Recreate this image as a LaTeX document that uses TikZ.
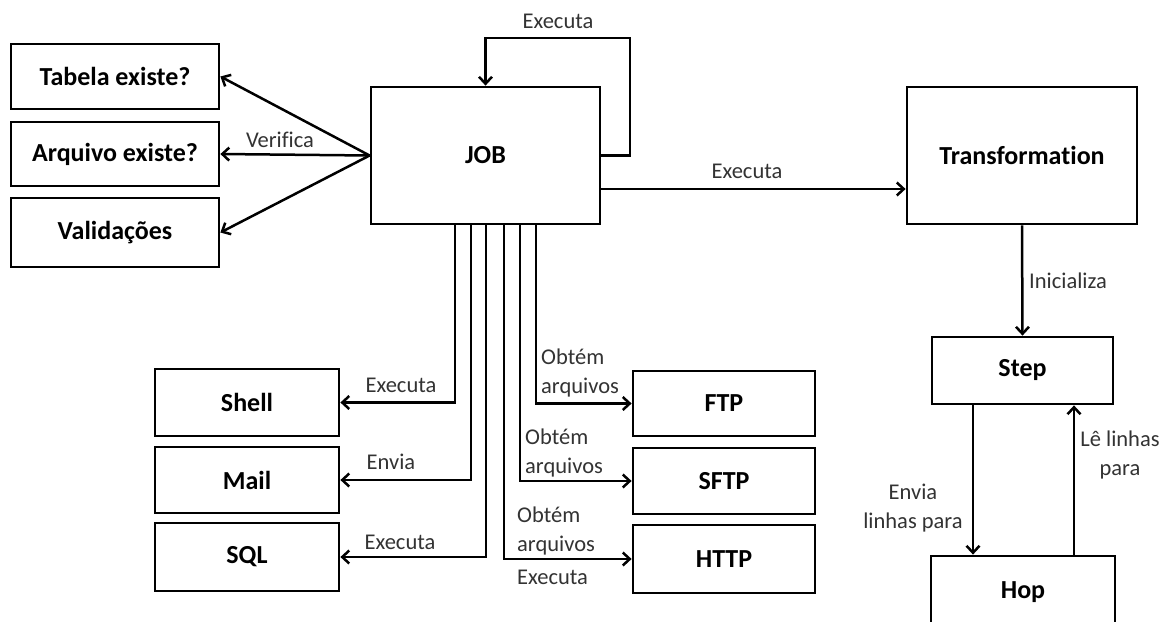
\documentclass[tikz,border=0pt]{standalone}
\usepackage{fontspec}
\setmainfont{Carlito}[Ligatures=NoCommon]
\usetikzlibrary{arrows.meta}

\tikzset{
  box/.style={draw, line width=2.8pt, fill=white, inner sep=0pt,
    font=\fontsize{26}{30}\selectfont\bfseries},
  arr/.style={line width=2.5pt, -{Straight Barb[length=7pt,width=13pt,line width=2.5pt]}},
  lbl/.style={text=black!80, inner sep=0pt,
    font=\fontsize{22.5}{29}\selectfont},
}

\begin{document}
\begin{tikzpicture}[x=1pt, y=-1pt]
\useasboundingbox (0,0) rectangle (1167,621);
\fill[white] (0,0) rectangle (1167,621);
\clip (0,0) rectangle (1167,621);

% checks on the left
\node[box, minimum width=208pt, minimum height=65pt] (tab) at (115,76.5) {Tabela existe?};
\node[box, minimum width=208pt, minimum height=64pt] (arq) at (115,154) {Arquivo existe?};
\node[box, minimum width=208pt, minimum height=69pt] (val) at (115,232.5) {Validações};

% main job and transformation
\node[box, minimum width=229pt, minimum height=137pt] (job) at (485.5,155.5) {JOB};
\node[box, minimum width=230pt, minimum height=137pt] (trans) at (1022,155.5) {Transformation};
\node[box, minimum width=181pt, minimum height=67pt] (step) at (1022.5,370.5) {Step};
\node[box, minimum width=184pt, minimum height=72pt] (hop) at (1023,592) {Hop};

% job entries
\node[box, minimum width=184pt, minimum height=67pt] (shell) at (247,402.5) {Shell};
\node[box, minimum width=184pt, minimum height=66pt] (mail) at (247,480) {Mail};
\node[box, minimum width=184pt, minimum height=68pt] (sql) at (247,557) {SQL};
\node[box, minimum width=182pt, minimum height=65pt] (ftp) at (724,403.5) {FTP};
\node[box, minimum width=182pt, minimum height=66pt] (sftp) at (724,481) {SFTP};
\node[box, minimum width=182pt, minimum height=68pt] (http) at (724,559) {HTTP};

% verification arrows
\draw[arr] (job.west) -- (tab.east);
\draw[arr] (job.west) -- (arq.east);
\draw[arr] (job.west) -- (val.east);
\node[lbl] (lverif) at (280,140) {Verifica};

% self loop
\coordinate (loop) at (630,38);
\draw[arr] (job.east) -| (loop) -| (job.north);
\node[lbl] (lloop) at (558,21) {Executa};

% job to transformation
\draw[arr] ([yshift=-33.5pt]job.east) -- ([yshift=-33.5pt]trans.west);
\node[lbl] (lexec) at (747,171) {Executa};

% transformation to step
\draw[arr] (trans.south) -- (step.north);
\node[lbl, anchor=west] (linit) at (1029,281) {Inicializa};

% step and hop
\coordinate (sx) at (973,0);
\coordinate (lx) at (1074,0);
\draw[arr] (step.south -| sx) -- (hop.north -| sx);
\draw[arr] (hop.north -| lx) -- (step.south -| lx);
\node[lbl, align=center] (lenv) at (913,508) {Envia\\linhas para};
\node[lbl, align=center] (lle) at (1120,455) {Lê linhas\\para};

% job branches below
\coordinate (b1) at (455,0);
\coordinate (b2) at (471,0);
\coordinate (b3) at (486,0);
\coordinate (b4) at (504,0);
\coordinate (b5) at (520,0);
\coordinate (b6) at (536,0);
\draw[arr] (job.south -| b1) |- (shell.east);
\draw[arr] (job.south -| b2) |- (mail.east);
\draw[arr] (job.south -| b3) |- (sql.east);
\draw[arr] (job.south -| b4) |- (http.west);
\draw[arr] (job.south -| b5) |- (sftp.west);
\draw[arr] (job.south -| b6) |- (ftp.west);

\node[lbl] (lshell) at (401,385) {Executa};
\node[lbl] (lmail) at (391,462) {Envia};
\node[lbl] (lsql) at (400,542) {Executa};
\node[lbl, anchor=west, align=left] (lftp) at (541,373) {Obtém\\arquivos};
\node[lbl, anchor=west, align=left] (lsftp) at (525,453) {Obtém\\arquivos};
\node[lbl, anchor=west, align=left] (lhttp) at (517,531) {Obtém\\arquivos};
\node[lbl, anchor=west] (lhttpx) at (517,577) {Executa};
\end{tikzpicture}
\end{document}
